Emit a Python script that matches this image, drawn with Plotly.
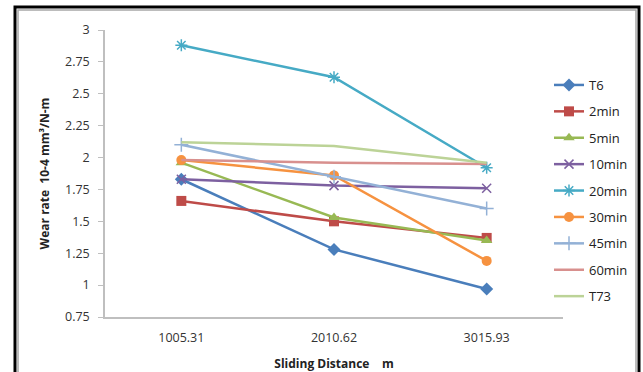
import plotly.graph_objects as go

distances = ["1005.31", "2010.62", "3015.93"]
series_names = ["T6", "2min", "5min", "10min", "20min", "30min", "45min", "60min", "T73"]
t6 = [1.83, 1.28, 0.97]
min2 = [1.66, 1.50, 1.37]
min5 = [1.96, 1.53, 1.35]
min10 = [1.83, 1.78, 1.76]
min20 = [2.88, 2.63, 1.92]
min30 = [1.98, 1.86, 1.19]
min45 = [2.10, 1.85, 1.60]
min60 = [1.98, 1.96, 1.95]
t73 = [2.12, 2.09, 1.96]
y_ticks = [0.75, 1, 1.25, 1.5, 1.75, 2, 2.25, 2.5, 2.75, 3]

values = [t6, min2, min5, min10, min20, min30, min45, min60, t73]
colors = ["#4A7EBB", "#BE4B48", "#98B954", "#7D60A0", "#46AAC5", "#F69240", "#93B1D6", "#D8908E", "#BCD397"]
marker_specs = [
    dict(symbol="diamond", size=10),
    dict(symbol="square", size=10),
    dict(symbol="triangle-up", size=10),
    dict(symbol="x-thin-open", size=9, line=dict(color="#B3A2C7", width=1.5)),
    dict(symbol="asterisk-open", size=10, line=dict(color="#93CDDD", width=1.5)),
    dict(symbol="circle", size=10),
    dict(symbol="cross-thin-open", size=10, line=dict(color="#95B3D7", width=1.5)),
    None,
    None,
]

fig = go.Figure()
for i, (name, vals) in enumerate(zip(series_names, values)):
    ms = marker_specs[i]
    if ms is None:
        mode = "lines"
        marker = dict()
    else:
        mode = "lines+markers"
        marker = dict(ms)
        if "line" not in marker:
            marker["color"] = colors[i]
    fig.add_trace(go.Scatter(
        x=distances, y=vals, name=name, mode=mode,
        line=dict(color=colors[i], width=2.5),
        marker=marker, legendgroup=name,
    ))

W, H = 643, 372
L, T = 105, 30
R = W - 563
B = H - 317
pw, ph = W - L - R, H - T - B

def px(x):
    return (x - L) / pw

def py(y):
    return (H - B - y) / ph

fig.update_layout(
    width=W, height=H,
    margin=dict(l=L, r=R, t=T, b=B, autoexpand=False),
    paper_bgcolor="white", plot_bgcolor="white",
    font=dict(family="Open Sans, Liberation Sans, sans-serif", size=12, color="#404040"),
    showlegend=True,
    legend=dict(
        x=px(549), y=py(70), xanchor="left", yanchor="top",
        font=dict(size=13, color="#222222"),
        tracegroupgap=6.5, traceorder="grouped",
        bgcolor="rgba(0,0,0,0)", itemwidth=30,
    ),
    xaxis=dict(
        type="category", range=[-0.5, 2.5],
        showline=True, linecolor="#BFBFBF", linewidth=1.5,
        showgrid=False, ticks="", zeroline=False,
        tickfont=dict(size=12.5, color="#333333"),
        ticklabelstandoff=8,
        title=dict(text="<b>Sliding Distance    m</b>", font=dict(size=12, color="#222222"), standoff=16),
    ),
    yaxis=dict(
        range=[0.75, 3], tickvals=y_ticks,
        ticktext=[("%g" % v) for v in y_ticks],
        showline=True, linecolor="#BFBFBF", linewidth=1.5,
        showgrid=False, zeroline=False,
        ticks="outside", ticklen=5, tickcolor="#BFBFBF",
        tickfont=dict(size=12.5, color="#333333"),
        ticklabelstandoff=6,
        title=dict(text="<b>Wear rate  10-4 mm³/N-m</b>", font=dict(size=12, color="#222222"), standoff=13),
    ),
    shapes=[
        dict(type="rect", xref="paper", yref="paper",
             x0=px(15), x1=px(639), y0=py(390), y1=py(7),
             line=dict(color="black", width=3), layer="above"),
        dict(type="rect", xref="paper", yref="paper",
             x0=px(18), x1=px(636), y0=py(390), y1=py(10),
             line=dict(color="#A6A6A6", width=1.5), layer="above"),
    ],
)

fig.write_html(
    "out.html",
    config={"displayModeBar": False},
    post_script="document.body.style.margin='0';document.body.style.overflow='hidden';document.documentElement.style.overflow='hidden';",
)
